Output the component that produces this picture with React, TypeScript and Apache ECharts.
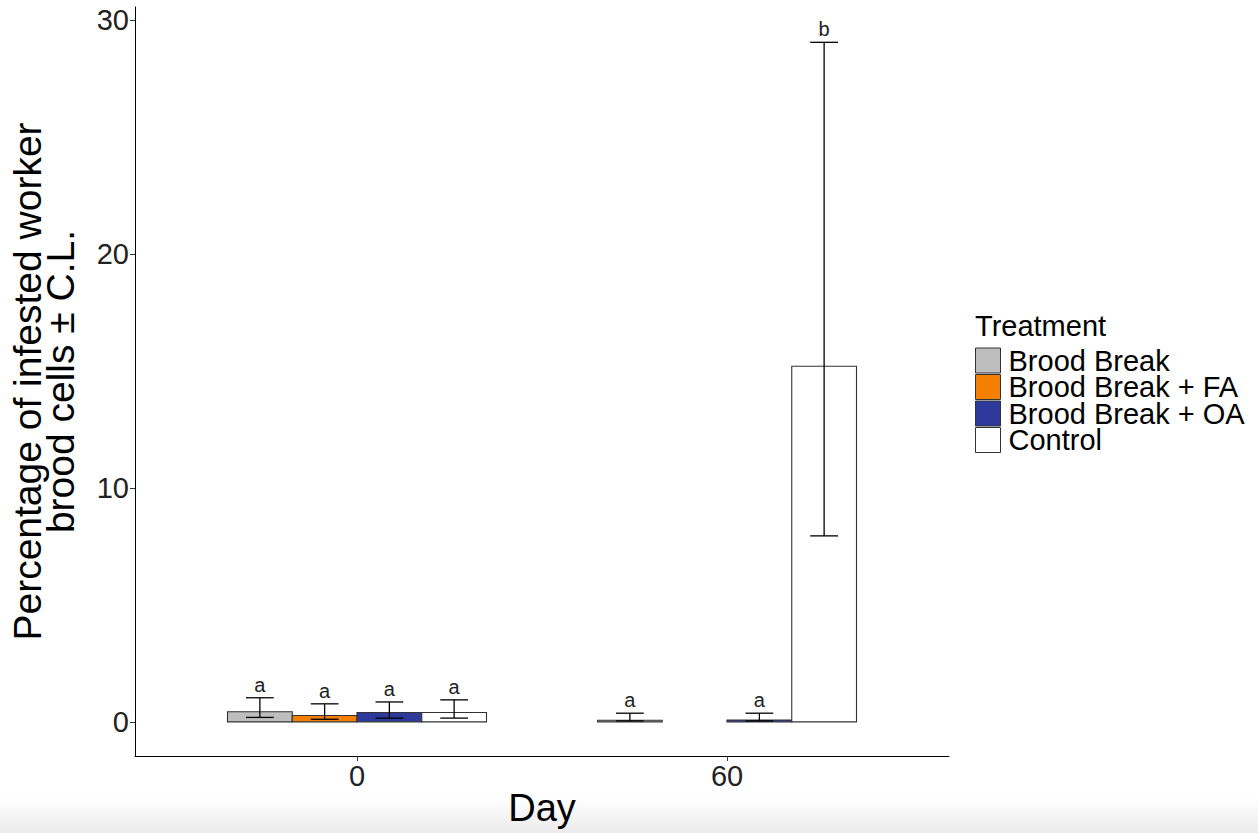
import React, { useEffect, useRef } from "react";
import * as echarts from "echarts";

const days = ["0", "60"];
const dayPos = [1, 2];
const treatments = ["Brood Break", "Brood Break + FA", "Brood Break + OA", "Control"];
const fillColors = ["#BEBEBE", "#F57F00", "#2D3A9C", "#FFFFFF"];

// per treatment, per day (null = no data)
const meanBB = [0.43, 0.07];
const meanFA = [0.27, null];
const meanOA = [0.40, 0.08];
const meanCtl = [0.40, 15.2];

const lowBB = [0.19, 0.04];
const lowFA = [0.11, null];
const lowOA = [0.16, 0.04];
const lowCtl = [0.16, 7.95];

const highBB = [1.03, 0.37];
const highFA = [0.77, null];
const highOA = [0.85, 0.37];
const highCtl = [0.94, 29.05];

const lettersBB = ["a", "a"];
const lettersFA = ["a", null];
const lettersOA = ["a", "a"];
const lettersCtl = ["a", "b"];

const yTicks = [0, 10, 20, 30];

const means = [meanBB, meanFA, meanOA, meanCtl];
const lows = [lowBB, lowFA, lowOA, lowCtl];
const highs = [highBB, highFA, highOA, highCtl];
const letters = [lettersBB, lettersFA, lettersOA, lettersCtl];

const FONT = "'Liberation Sans', Arial, Helvetica, sans-serif";

export default function App() {
  const ref = useRef<HTMLDivElement>(null);
  useEffect(() => {
    if (!ref.current) return;
    const chart = echarts.init(ref.current, null, { renderer: "svg" });

    const series = treatments.map((name, i) => {
      const data: number[][] = [];
      const labs: string[] = [];
      for (let d = 0; d < days.length; d++) {
        const m = means[i][d];
        if (m === null || m === undefined) continue;
        data.push([dayPos[d], m, lows[i][d] as number, highs[i][d] as number]);
        labs.push(letters[i][d] as string);
      }
      return {
        type: "custom",
        name,
        itemStyle: { color: fillColors[i], borderColor: "#333", borderWidth: 1 },
        encode: { x: 0, y: [1, 2, 3] },
        data,
        renderItem: (params: any, api: any) => {
          const x = api.value(0);
          const mean = api.value(1);
          const lo = api.value(2);
          const hi = api.value(3);
          const bw = api.size([0.175, 0])[0];
          const capHalf = api.size([0.0375, 0])[0];
          const base = api.coord([x, 0]);
          const cx = base[0] + (i - 1.5) * bw;
          const topY = api.coord([x, mean])[1];
          const hiY = api.coord([x, hi])[1];
          const loY = api.coord([x, lo])[1];
          const lineStyle = { stroke: "#000", lineWidth: 1.3 };
          return {
            type: "group",
            children: [
              {
                type: "rect",
                shape: { x: cx - bw / 2, y: topY, width: bw, height: base[1] - topY },
                style: { fill: fillColors[i], stroke: "#333", lineWidth: 1.1 },
              },
              { type: "line", shape: { x1: cx, y1: hiY, x2: cx, y2: loY }, style: lineStyle },
              { type: "line", shape: { x1: cx - capHalf, y1: hiY, x2: cx + capHalf, y2: hiY }, style: lineStyle },
              { type: "line", shape: { x1: cx - capHalf, y1: loY, x2: cx + capHalf, y2: loY }, style: lineStyle },
              {
                type: "text",
                style: {
                  text: labs[params.dataIndex],
                  x: cx,
                  y: hiY - 3,
                  align: "center",
                  verticalAlign: "bottom",
                  font: `20px ${FONT}`,
                  fill: "#222",
                },
              },
            ],
          };
        },
      };
    });

    chart.setOption({
      animation: false,
      backgroundColor: "#ffffff",
      grid: { left: 135, right: 309, top: 7, bottom: 77, containLabel: false, outerBoundsMode: "none" },
      xAxis: {
        type: "value",
        min: 0.4,
        max: 2.6,
        name: "Day",
        nameLocation: "middle",
        nameGap: 33,
        nameMoveOverlap: false,
        nameTextStyle: { fontFamily: FONT, fontSize: 38, color: "#000", lineHeight: 38 },
        axisLine: { show: true, onZero: false, lineStyle: { color: "#000", width: 1 } },
        axisTick: { show: true, length: 5, customValues: dayPos, lineStyle: { color: "#333" } },
        axisLabel: {
          customValues: dayPos,
          formatter: (v: number) => days[dayPos.indexOf(v)] ?? "",
          fontFamily: FONT,
          fontSize: 29,
          color: "#222",
          margin: 5,
        },
        splitLine: { show: false },
      },
      yAxis: {
        type: "value",
        min: -1.46,
        max: 30.56,
        name: "Percentage of infested worker\nbrood cells ± C.L.",
        nameLocation: "middle",
        nameRotate: 90,
        nameGap: 58,
        nameTextStyle: { fontFamily: FONT, fontSize: 39, color: "#000", lineHeight: 33 },
        axisLine: { show: true, onZero: false, lineStyle: { color: "#000", width: 1 } },
        axisTick: { show: true, length: 5, customValues: yTicks, lineStyle: { color: "#333" } },
        axisLabel: {
          customValues: yTicks,
          fontFamily: FONT,
          fontSize: 29,
          color: "#222",
          margin: 6,
        },
        splitLine: { show: false },
      },
      legend: {
        orient: "vertical",
        left: 975,
        top: 346,
        padding: 0,
        itemWidth: 25,
        itemHeight: 25,
        itemGap: -2.5,
        icon: "rect",
        textStyle: { fontFamily: FONT, fontSize: 29, color: "#000", lineHeight: 26, padding: [0, 0, 0, 3] },
        data: treatments.map((name, i) => ({
          name,
          itemStyle: { color: fillColors[i], borderColor: "#333", borderWidth: 1 },
        })),
      },
      graphic: [
        {
          type: "rect",
          z: -10,
          silent: true,
          shape: { x: 0, y: 798, width: 1258, height: 35 },
          style: {
            fill: new echarts.graphic.LinearGradient(0, 0, 0, 1, [
              { offset: 0, color: "#ffffff" },
              { offset: 1, color: "#ebebeb" },
            ]),
          },
        },
        {
          type: "text",
          left: 975,
          top: 311,
          style: { text: "Treatment", font: `29px ${FONT}`, fill: "#000" },
        },
      ],
      series,
    });
    return () => chart.dispose();
  }, []);
  return (
    <div
      ref={ref}
      style={{ position: "absolute", left: 0, top: 0, width: 1258, height: 833 }}
    />
  );
}
